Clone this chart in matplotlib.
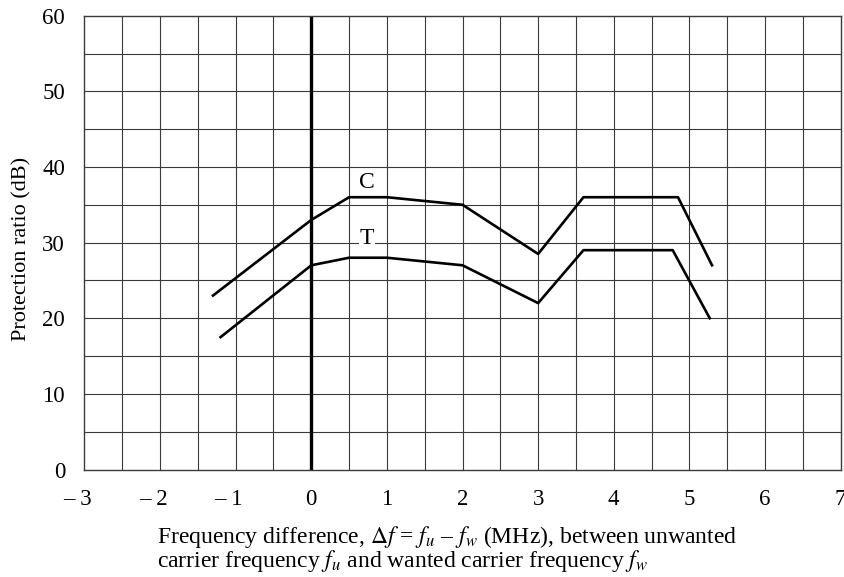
import matplotlib
matplotlib.use("Agg")
import matplotlib.pyplot as plt
import matplotlib.transforms as mtrans
import numpy as np

plt.rcParams.update({"font.family": "Liberation Serif", "mathtext.fontset": "stix"})

# curve C
c_x = [-1.3, 0, 0.5, 1, 2, 3, 3.6, 4.85, 5.3]
c_y = [23, 33, 36, 36, 35, 28.5, 36, 36, 27]
# curve T
t_x = [-1.2, 0, 0.5, 1, 2, 3, 3.6, 4.78, 5.27]
t_y = [17.5, 27, 28, 28, 27, 22, 29, 29, 20]

x_ticks = [-3, -2, -1, 0, 1, 2, 3, 4, 5, 6, 7]
x_ticklabels = ["– 3", "– 2", "– 1", "0", "1", "2", "3", "4", "5", "6", "7"]
y_ticks = [0, 10, 20, 30, 40, 50, 60]

fig = plt.figure(figsize=(8.44, 5.77), dpi=100)
ax = fig.add_axes([0.1001, 0.1863, 0.8958, 0.7865])

for v in np.arange(-2.5, 7, 0.5):
    if v != 0:
        ax.axvline(v, color="#3a3a3a", lw=0.8, zorder=1)
for v in np.arange(5, 60, 5):
    ax.axhline(v, color="#3a3a3a", lw=0.8, zorder=1)
ax.axvline(0, color="black", lw=2.4, zorder=2)

ax.plot(c_x, c_y, color="black", lw=1.9, zorder=3)
ax.plot(t_x, t_y, color="black", lw=1.9, zorder=3)
ax.text(0.74, 37.9, "C", fontsize=17, ha="center", va="center", zorder=4)
ax.text(0.74, 30.5, "T", fontsize=17, ha="center", va="center", zorder=4,
        bbox=dict(facecolor="white", edgecolor="none", pad=0.5))

ax.set_xlim(-3, 7)
ax.set_ylim(0, 60)
ax.set_xticks(x_ticks)
ax.set_xticklabels(x_ticklabels)
ax.set_yticks(y_ticks)
ax.tick_params(axis="y", length=0, labelsize=16.5, pad=14)
ax.tick_params(axis="x", length=0, labelsize=16.5, pad=14)
# negative labels: keep the digit on the tick, dash hanging left
shift = mtrans.ScaledTranslation(-7 / 100, 0, fig.dpi_scale_trans)
for lab in ax.get_xticklabels():
    if lab.get_text().startswith("–"):
        lab.set_transform(lab.get_transform() + shift)
for s in ax.spines.values():
    s.set_color("#3a3a3a")
    s.set_linewidth(1.0)

ax.set_ylabel("Protection ratio (dB)", fontsize=16, labelpad=8, y=0.486)
ax.set_xlabel("Frequency difference, $\\Delta f$ = $f_u$ – $f_w$ (MHz), between unwanted\n"
              "carrier frequency $f_u$ and wanted carrier frequency $f_w$",
              fontsize=17, ha="left", x=0.096, labelpad=10, linespacing=0.88)

fig.savefig("out.png", dpi=100, facecolor="white")
